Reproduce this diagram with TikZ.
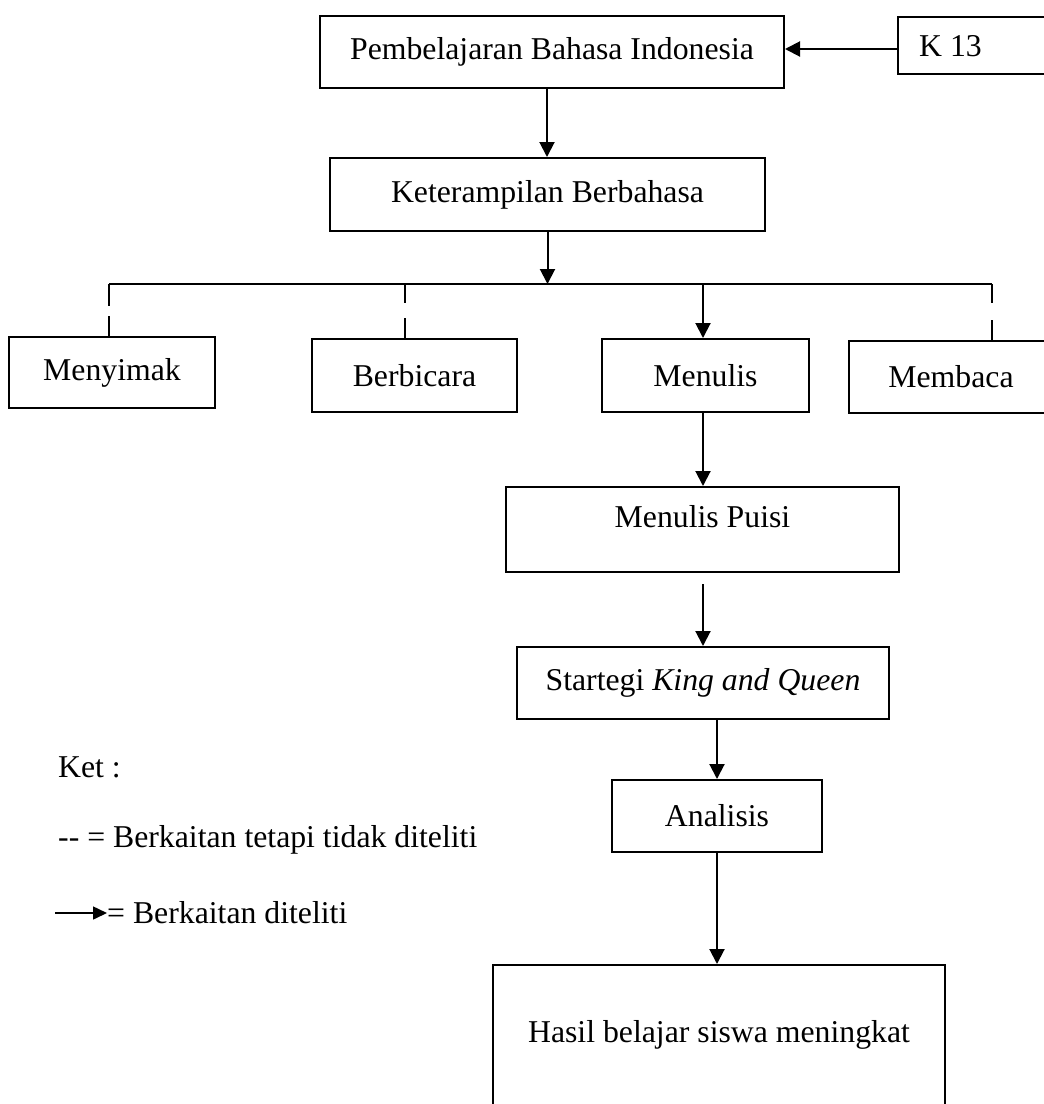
\documentclass[tikz,border=0pt]{standalone}
\usepackage{fontspec}
\setmainfont{Liberation Serif}
\usetikzlibrary{arrows.meta}
\begin{document}
\begin{tikzpicture}[x=1pt,y=-1pt,
  every node/.style={font=\fontsize{31.75}{38}\selectfont},
  box/.style={draw, line width=2pt, inner sep=0pt},
  arr/.style={line width=2pt, -{Triangle[width=15pt,length=15pt]}},
  legarr/.style={line width=1.6pt, -{Triangle[width=13pt,length=14pt]}},
  dashln/.style={line width=1.4pt},
  txt/.style={inner sep=0pt}]
\useasboundingbox (0,0) rectangle (1044,1104);
\clip (0,0) rectangle (1044,1104);
% boxes
\node[box, minimum width=464pt, minimum height=72pt] (pbi) at (552,52) {Pembelajaran Bahasa Indonesia};
\node[box, minimum width=162pt, minimum height=57pt] (k13) at (979,45.5) {};
\node[txt, anchor=west] (k13t) at (919,46) {K 13};
\node[box, minimum width=435pt, minimum height=73pt] (ket) at (547.5,194.5) {Keterampilan Berbahasa};
\node[box, minimum width=206pt, minimum height=71pt] (menyimak) at (112,372.5) {Menyimak};
\node[box, minimum width=205pt, minimum height=73pt] (berbicara) at (414.5,375.5) {Berbicara};
\node[box, minimum width=207pt, minimum height=73pt] (menulis) at (705.5,375.5) {Menulis};
\node[box, minimum width=204pt, minimum height=72pt] (membaca) at (951,377) {Membaca};
\node[box, minimum width=393pt, minimum height=85pt] (puisi) at (702.5,529.5) {};
\node[txt] (puisit) at (702.5,517) {Menulis Puisi};
\node[box, minimum width=372pt, minimum height=72pt] (startegi) at (703,683) {Startegi \textit{King and Queen}};
\node[box, minimum width=210pt, minimum height=72pt] (analisis) at (717,816) {Analisis};
\node[box, minimum width=452pt, minimum height=140pt] (hasil) at (719,1035) {Hasil belajar siswa meningkat};
% branch bar
\coordinate (barL) at (109,284);
\coordinate (barR) at (992,284);
\coordinate (tB) at (405,284);
\coordinate (tM) at (703,284);
\draw[line width=2pt] (barL) -- (barR);
% connectors
\draw[arr] ([yshift=-3.5pt]k13.west) -- ([yshift=-3.5pt]k13.west -| pbi.east);
\draw[arr] ([xshift=-5pt]pbi.south) -- ([xshift=-5pt]pbi.south |- ket.north);
\draw[arr] (ket.south) -- (ket.south |- barL);
\draw[dashln, dash pattern=on 22pt off 10pt on 60pt] (barL) -- (barL |- menyimak.north);
\draw[dashln, dash pattern=on 19pt off 15pt on 60pt] (tB) -- (tB |- berbicara.north);
\draw[arr] (tM) -- (tM |- menulis.north);
\draw[dashln, dash pattern=on 19pt off 17pt on 60pt] (barR) -- (barR |- membaca.north);
\draw[arr] (tM |- menulis.south) -- (tM |- puisi.north);
\draw[arr, shorten <=11pt] (startegi.north |- puisi.south) -- (startegi.north);
\draw[arr] (analisis.north |- startegi.south) -- (analisis.north);
\draw[arr] (analisis.south) -- (analisis.south |- hasil.north);
% legend
\node[txt, anchor=west] (ketlbl) at (58,767) {Ket :};
\node[txt, anchor=west] (leg1) at (58,840) {{-}{-} = Berkaitan tetapi tidak diteliti};
\coordinate (legA) at (55,913);
\node[txt, anchor=west] (leg2) at (107,913) {= Berkaitan diteliti};
\draw[legarr] (legA) -- (leg2.west);
\end{tikzpicture}
\end{document}
